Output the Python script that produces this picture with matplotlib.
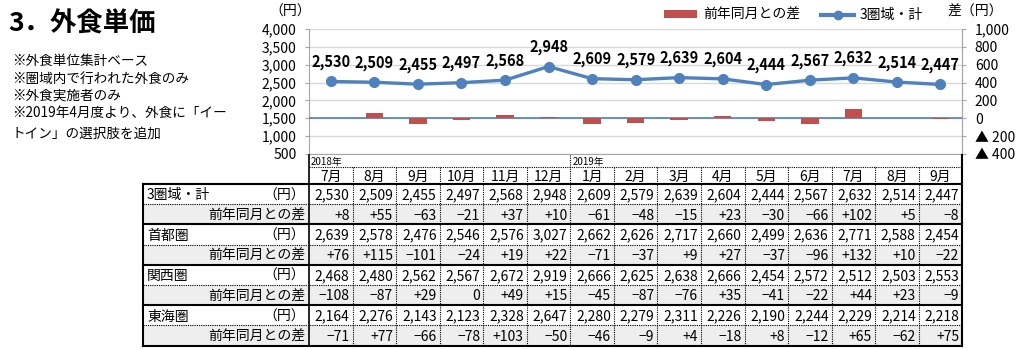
import matplotlib
matplotlib.use('Agg')
import matplotlib.pyplot as plt
from matplotlib.lines import Line2D
from matplotlib.patches import Patch, Rectangle
import matplotlib.ticker as mticker

plt.rcParams['font.family'] = ['Noto Sans CJK JP', 'DejaVu Sans']

# ---------------- data ----------------
months = ['7月', '8月', '9月', '10月', '11月', '12月', '1月', '2月', '3月',
          '4月', '5月', '6月', '7月', '8月', '9月']
year_labels = {0: '2018年', 6: '2019年'}

total = [2530, 2509, 2455, 2497, 2568, 2948, 2609, 2579, 2639, 2604, 2444, 2567, 2632, 2514, 2447]
total_diff = [8, 55, -63, -21, 37, 10, -61, -48, -15, 23, -30, -66, 102, 5, -8]
shutoken = [2639, 2578, 2476, 2546, 2576, 3027, 2662, 2626, 2717, 2660, 2499, 2636, 2771, 2588, 2454]
shutoken_diff = [76, 115, -101, -24, 19, 22, -71, -37, 9, 27, -37, -96, 132, 10, -22]
kansai = [2468, 2480, 2562, 2567, 2672, 2919, 2666, 2625, 2638, 2666, 2454, 2572, 2512, 2503, 2553]
kansai_diff = [-108, -87, 29, 0, 49, 15, -45, -87, -76, 35, -41, -22, 44, 23, -9]
tokai = [2164, 2276, 2143, 2123, 2328, 2647, 2280, 2279, 2311, 2226, 2190, 2244, 2229, 2214, 2218]
tokai_diff = [-71, 77, -66, -78, 103, -50, -46, -9, 4, -18, 8, -12, 65, -62, 75]

region_names = ['3圏域・計', '首都圏', '関西圏', '東海圏']
region_values = [total, shutoken, kansai, tokai]
region_diffs = [total_diff, shutoken_diff, kansai_diff, tokai_diff]

notes = ['※外食単位集計ベース', '※圏域内で行われた外食のみ', '※外食実施者のみ',
         '※2019年4月度より、外食に「イー', 'トイン」の選択肢を追加']

BLUE = '#4f81bd'
RED = '#c0504d'

# ---------------- figure ----------------
W, H = 1024, 350
fig = plt.figure(figsize=(W / 100, H / 100), dpi=100)


def fx(px):
    return px / W


def fy(py):
    return 1 - py / H


n = len(months)
col_left = 309.0
col_w = 43.55
col_right = col_left + n * col_w
plot_top, plot_bottom = 29, 154

ax = fig.add_axes([fx(col_left), fy(plot_bottom), (col_right - col_left) / W,
                   (plot_bottom - plot_top) / H])
ax.set_xlim(-0.5, n - 0.5)
ax.set_ylim(500, 4000)
ax.set_yticks(range(500, 4001, 500))
ax.yaxis.set_major_formatter(mticker.FuncFormatter(lambda v, p: f'{int(v):,}'))
ax.yaxis.grid(True, color='#d9d9d9', lw=1)
ax.set_axisbelow(True)
ax.set_xticks([])
ax.spines['top'].set_visible(False)
for s in ['left', 'bottom', 'right']:
    ax.spines[s].set_color('#a6a6a6')
ax.tick_params(axis='y', length=3, pad=6, color='#a6a6a6', labelsize=10)

xs = list(range(n))
ax.plot(xs, total, color=BLUE, lw=2.4, marker='o', markersize=7, zorder=5)
for i, v in enumerate(total):
    ax.annotate(f'{v:,}', (i, v), xytext=(0, 14), textcoords='offset points',
                ha='center', va='center', fontsize=10.5, fontweight='bold')

ax2 = ax.twinx()
ax2.set_ylim(-400, 1000)
ax2.set_yticks(range(-400, 1001, 200))
ax2.yaxis.set_major_formatter(mticker.FuncFormatter(
    lambda v, p: f'{int(v):,}' if v >= 0 else f'▲ {int(-v):,}'))
ax2.bar(xs, total_diff, width=0.4, color=RED, zorder=3)
ax2.axhline(0, color=BLUE, lw=1.2, zorder=2)
ax2.spines['top'].set_visible(False)
ax2.spines['left'].set_visible(False)
ax2.spines['bottom'].set_visible(False)
ax2.spines['right'].set_color('#a6a6a6')
ax2.tick_params(axis='y', length=3, pad=6, color='#a6a6a6', labelsize=10)

# axis unit labels
fig.text(fx(290), fy(12), '（円）', ha='center', va='center', fontsize=10)
fig.text(fx(975), fy(12), '差（円）', ha='center', va='center', fontsize=10)

# legend
handles = [Patch(facecolor=RED, edgecolor='none'),
           Line2D([0], [0], color=BLUE, lw=3, marker='o', markersize=6)]
fig.legend(handles, ['前年同月との差', '3圏域・計'], loc='center left',
           bbox_to_anchor=(fx(664), fy(15)), ncol=2, frameon=False, fontsize=10,
           handlelength=2.4, handleheight=0.5, columnspacing=1.5, handletextpad=0.4,
           borderpad=0, borderaxespad=0)

# title and notes
fig.text(fx(8), fy(24), '3．外食単価', ha='left', va='center', fontsize=19, fontweight='bold')
note_y = [61, 79, 96, 113, 134]
for t, y in zip(notes, note_y):
    fig.text(fx(12), fy(y), t, ha='left', va='center', fontsize=9.8)

# ---------------- table ----------------
tax = fig.add_axes([0, 0, 1, 1])
tax.set_xlim(0, W)
tax.set_ylim(H, 0)
tax.axis('off')

tbl_left = 143
header_top = 155
year_bottom = 167
header_bottom = 184
row_h = 20.2
n_rows = 8
tbl_bottom = header_bottom + n_rows * row_h
dot = (0, (1, 1))
tdy = 1.2  # text vertical nudge

# gray backgrounds for diff rows
for k in range(4):
    y0 = header_bottom + (2 * k + 1) * row_h
    tax.add_patch(Rectangle((tbl_left, y0), col_right - tbl_left, row_h,
                            facecolor='#eeeeee', edgecolor='none', zorder=0))

# horizontal lines
for k in range(5):
    y = header_bottom + 2 * k * row_h
    tax.plot([tbl_left, col_right], [y, y], color='black', lw=1.5, zorder=3)
for k in range(4):
    y = header_bottom + (2 * k + 1) * row_h
    tax.plot([tbl_left, col_right], [y, y], color='black', lw=0.8, ls=dot, zorder=2)
tax.plot([col_left, col_right], [year_bottom, year_bottom], color='black', lw=0.8, ls=dot, zorder=2)

# vertical lines
tax.plot([tbl_left, tbl_left], [header_bottom, tbl_bottom], color='black', lw=1.5, zorder=3)
tax.plot([col_left, col_left], [header_top, tbl_bottom], color='black', lw=1.2, zorder=3)
tax.plot([col_right, col_right], [header_top, tbl_bottom], color='black', lw=1.5, zorder=3)
for i in range(1, n):
    x = col_left + i * col_w
    top = header_top if i in year_labels else year_bottom
    tax.plot([x, x], [top, tbl_bottom], color='black', lw=0.8, ls=dot, zorder=2)

# header texts
for i, lab in year_labels.items():
    tax.text(col_left + i * col_w + 2, (header_top + year_bottom) / 2 + 1, lab,
             ha='left', va='center', fontsize=7)
for i, m in enumerate(months):
    tax.text(col_left + (i + 0.5) * col_w, (year_bottom + header_bottom) / 2 + tdy, m,
             ha='center', va='center', fontsize=10)


def fmt_diff(v):
    if v > 0:
        return f'+{v}'
    if v == 0:
        return '0'
    return f'−{-v}'


for k, (name, vals, diffs) in enumerate(zip(region_names, region_values, region_diffs)):
    yv = header_bottom + (2 * k + 0.5) * row_h + tdy
    yd = header_bottom + (2 * k + 1.5) * row_h + tdy
    tax.text(tbl_left + 4, yv, name, ha='left', va='center', fontsize=10)
    tax.text(col_left - 4, yv, '（円）', ha='right', va='center', fontsize=10)
    tax.text(col_left - 4, yd, '前年同月との差', ha='right', va='center', fontsize=10)
    for i in range(n):
        xr = col_left + (i + 1) * col_w - 3
        tax.text(xr, yv, f'{vals[i]:,}', ha='right', va='center', fontsize=10)
        tax.text(xr, yd, fmt_diff(diffs[i]), ha='right', va='center', fontsize=10)

fig.savefig('out.png', dpi=100)
